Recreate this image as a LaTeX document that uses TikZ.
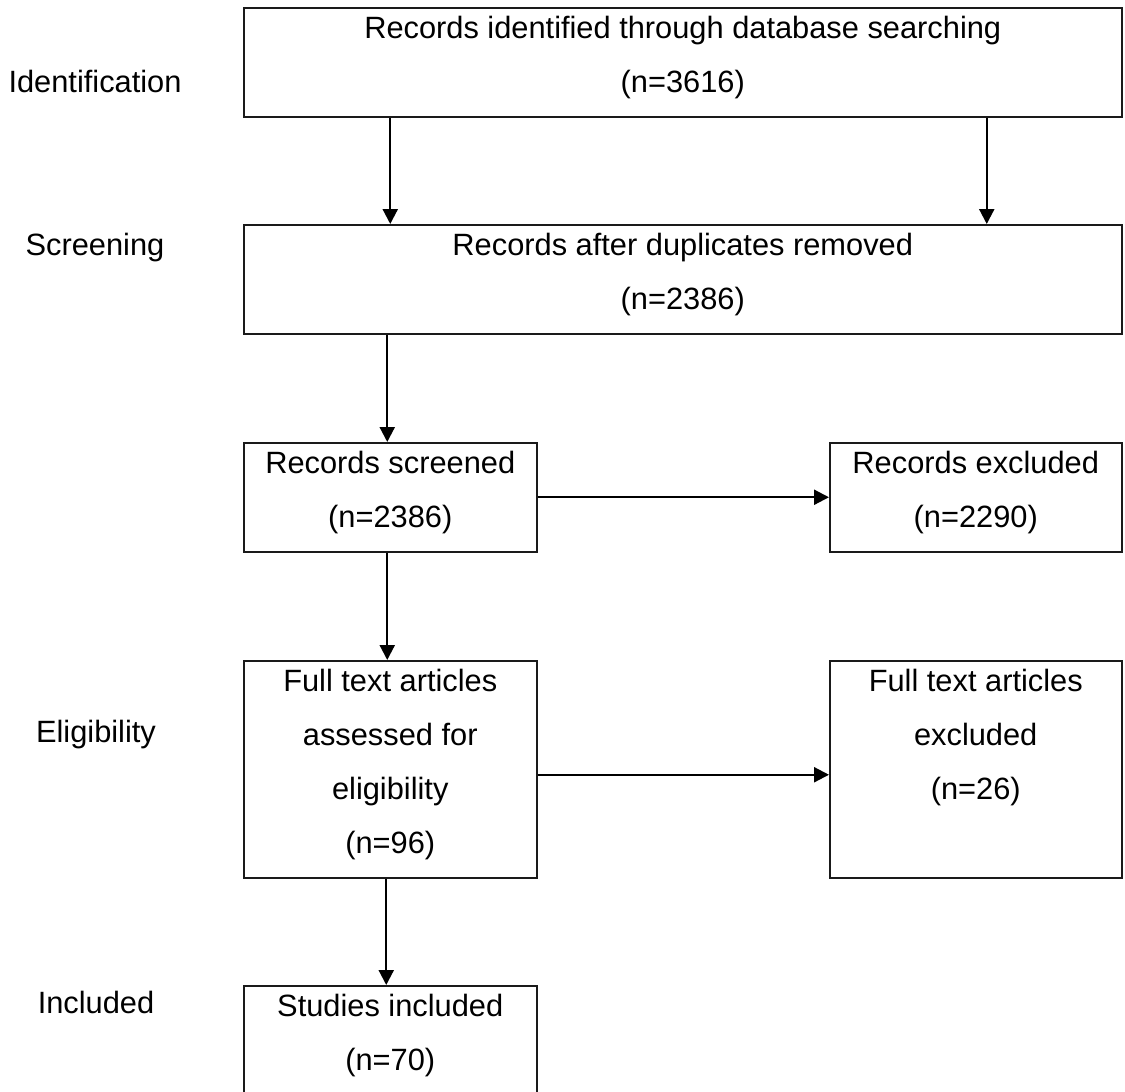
\documentclass[tikz,border=0pt]{standalone}
\usepackage{fontspec}
\setmainfont{Liberation Sans}
\usetikzlibrary{arrows.meta}

\definecolor{Frame}{HTML}{1A1A1A}
\definecolor{Link}{HTML}{000000}

\tikzset{
  box/.style={draw=Frame, line width=0.75pt, anchor=north west, inner sep=0pt},
  boxtext/.style={anchor=north, align=center, inner sep=0pt, yshift=-4.2pt, font=\fontsize{15.4}{27}\selectfont},
  stage/.style={anchor=base, inner sep=0pt, font=\fontsize{15.4}{18}\selectfont},
  arr/.style={draw=Link, line width=1.1pt, -{Triangle[width=7.5pt,length=7.5pt]}}
}

\begin{document}
\begin{tikzpicture}[x=0.5pt, y=-0.5pt]

 \useasboundingbox (0,0) rectangle (1125,1092);
 \clip (0,0) rectangle (1125,1092);

 %%%%%%%%%% Stages on the left %%%%%%%%%%
 \node[stage] (identlbl) at (95,92) {Identification};
 \node[stage] (screenlbl) at (95,255) {Screening};
 \node[stage] (eliglbl) at (96,742) {Eligibility};
 \node[stage] (incllbl) at (96,1013) {Included};

 %%%%%%%%%% Boxes %%%%%%%%%%
 \node[box, minimum width=439pt, minimum height=54.5pt,
   label={[boxtext]north:{Records identified through database searching\\(n=3616)}}] (ident) at (243,7) {};
 \node[box, minimum width=439pt, minimum height=54.5pt,
   label={[boxtext]north:{Records after duplicates removed\\(n=2386)}}] (dedup) at (243,224) {};

 \node[box, minimum width=146.5pt, minimum height=54.5pt,
   label={[boxtext]north:{Records screened\\(n=2386)}}] (screened) at (243,442) {};
 \node[box, minimum width=146pt, minimum height=54.5pt,
   label={[boxtext]north:{Records excluded\\(n=2290)}}] (excl) at (829,442) {};

 \node[box, minimum width=146.5pt, minimum height=108.5pt,
   label={[boxtext]north:{Full text articles\\assessed for\\eligibility\\(n=96)}}] (assessed) at (243,660) {};
 \node[box, minimum width=146pt, minimum height=108.5pt,
   label={[boxtext]north:{Full text articles\\excluded\\(n=26)}}] (ftexcl) at (829,660) {};

 % bottom edge runs off the page
 \node[box, minimum width=146.5pt, minimum height=75pt,
   label={[boxtext]north:{Studies included\\(n=70)}}] (studies) at (243,985) {};

 %%%%%%%%%%% Arrows %%%%%%%%%%%
 \draw[arr] (ident.south -| screened.north) -- (dedup.north -| screened.north);
 \draw[arr] ([xshift=5.5pt]excl.north |- ident.south) -- ([xshift=5.5pt]excl.north |- dedup.north);
 \draw[arr] ([xshift=-1.5pt]screened.north |- dedup.south) -- ([xshift=-1.5pt]screened.north);
 \draw[arr] (screened.east) -- (excl.west);
 \draw[arr] ([xshift=-1.5pt]screened.south) -- ([xshift=-1.5pt]assessed.north);
 \draw[arr] ([yshift=-2.75pt]assessed.east) -- ([yshift=-2.75pt]ftexcl.west);
 \draw[arr] ([xshift=-2pt]assessed.south) -- ([xshift=-2pt]studies.north);

\end{tikzpicture}
\end{document}
